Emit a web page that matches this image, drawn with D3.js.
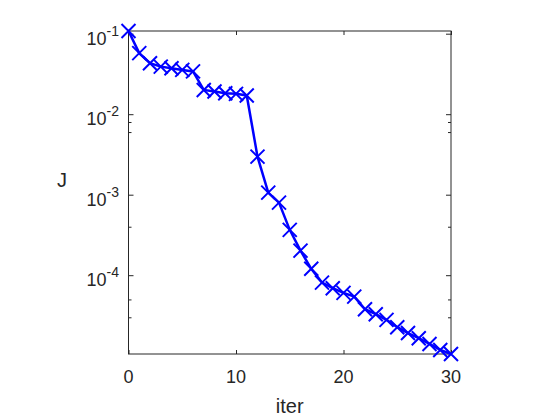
<!DOCTYPE html>
<html>
<head>
<meta charset="utf-8">
<script src="https://cdn.jsdelivr.net/npm/d3@7"></script>
<style>
  body { margin: 0; background: #fff; }
  text { font-family: "Liberation Sans", Arial, Helvetica, sans-serif; fill: #262626; }
</style>
</head>
<body>
<div id="chart"></div>
<script>
// data
var iters = [0, 1, 2, 3, 4, 5, 6, 7, 8, 9, 10, 11, 12, 13, 14, 15, 16, 17, 18, 19, 20,
             21, 22, 23, 24, 25, 26, 27, 28, 29, 30];
var J = [0.108, 0.0573, 0.043, 0.039, 0.0372, 0.0355, 0.034, 0.020, 0.0191, 0.0182, 0.0179,
         0.0171, 2.97e-3, 1.06e-3, 7.97e-4, 3.66e-4, 2.02e-4, 1.20e-4, 8.09e-5, 6.90e-5, 6.03e-5,
         5.42e-5, 3.78e-5, 3.28e-5, 2.79e-5, 2.26e-5, 1.91e-5, 1.65e-5, 1.40e-5, 1.18e-5, 1.05e-5];
var xTicks = [0, 10, 20, 30];
var yTicks = [1e-1, 1e-2, 1e-3, 1e-4];
var yTickExp = ['-1', '-2', '-3', '-4'];
var yMinorTicks = [8e-3, 6e-3, 4e-4, 5e-5, 3e-5];

var width = 560, height = 420;
var plotLeft = 128.5, plotRight = 451, plotTop = 31, plotBottom = 354;
var ink = '#262626';

var svg = d3.select('#chart').append('svg')
    .attr('width', width)
    .attr('height', height);

var x = d3.scaleLinear().domain([0, 30]).range([plotLeft, plotRight]);
var y = d3.scaleLog().domain(d3.extent(J)).range([plotBottom, plotTop]);

// ticks on all four sides, pointing inwards
function styleAxis(g) {
    g.select('.domain').remove();
    g.selectAll('.tick line').attr('stroke', ink);
    g.selectAll('.tick text').remove();
}
svg.append('g').attr('transform', 'translate(0,' + plotBottom + ')')
    .call(d3.axisBottom(x).tickValues(xTicks).tickSizeInner(-4).tickSizeOuter(0)).call(styleAxis);
svg.append('g').attr('transform', 'translate(0,' + plotTop + ')')
    .call(d3.axisTop(x).tickValues(xTicks).tickSizeInner(-4).tickSizeOuter(0)).call(styleAxis);
svg.append('g').attr('transform', 'translate(' + plotLeft + ',0)')
    .call(d3.axisLeft(y).tickValues(yTicks).tickSizeInner(-5).tickSizeOuter(0)).call(styleAxis);
svg.append('g').attr('transform', 'translate(' + plotRight + ',0)')
    .call(d3.axisRight(y).tickValues(yTicks).tickSizeInner(-5).tickSizeOuter(0)).call(styleAxis);
svg.append('g').attr('transform', 'translate(' + plotLeft + ',0)')
    .call(d3.axisLeft(y).tickValues(yMinorTicks).tickSizeInner(-3).tickSizeOuter(0)).call(styleAxis);
svg.append('g').attr('transform', 'translate(' + plotRight + ',0)')
    .call(d3.axisRight(y).tickValues(yMinorTicks).tickSizeInner(-3).tickSizeOuter(0)).call(styleAxis);

// box
svg.append('rect')
    .attr('x', plotLeft).attr('y', plotTop)
    .attr('width', plotRight - plotLeft).attr('height', plotBottom - plotTop)
    .attr('fill', 'none').attr('stroke', ink).attr('stroke-width', 1);

// x tick labels
svg.selectAll('.xlab').data(xTicks).enter().append('text')
    .attr('class', 'xlab')
    .attr('x', function(d) { return x(d); })
    .attr('y', 383)
    .attr('text-anchor', 'middle')
    .style('font-size', '18px')
    .text(function(d) { return d; });

// y tick labels 10^n
var ylab = svg.selectAll('.ylab').data(yTicks).enter().append('text')
    .attr('class', 'ylab')
    .attr('x', 119)
    .attr('y', function(d) { return y(d) + 11; })
    .attr('text-anchor', 'end')
    .style('font-size', '18px');
ylab.append('tspan').text('10');
ylab.append('tspan')
    .attr('dy', -9)
    .style('font-size', '14px')
    .text(function(d, i) { return yTickExp[i]; });

// axis labels
svg.append('text')
    .attr('x', (plotLeft + plotRight) / 2).attr('y', 413)
    .attr('text-anchor', 'middle')
    .style('font-size', '20px')
    .text('iter');
svg.append('text')
    .attr('x', 62).attr('y', 187)
    .attr('text-anchor', 'middle')
    .style('font-size', '20px')
    .text('J');

// line + x markers
var line = d3.line()
    .x(function(d, i) { return x(iters[i]); })
    .y(function(d) { return y(d); });

svg.append('path')
    .datum(J)
    .attr('d', line)
    .attr('fill', 'none')
    .attr('stroke', '#0000ff')
    .attr('stroke-width', 2.5);

svg.selectAll('.mark').data(J).enter().append('path')
    .attr('class', 'mark')
    .attr('transform', function(d, i) { return 'translate(' + x(iters[i]) + ',' + y(d) + ')'; })
    .attr('d', 'M-7,-7L7,7M-7,7L7,-7')
    .attr('fill', 'none')
    .attr('stroke', '#0000ff')
    .attr('stroke-width', 2);
</script>
</body>
</html>
